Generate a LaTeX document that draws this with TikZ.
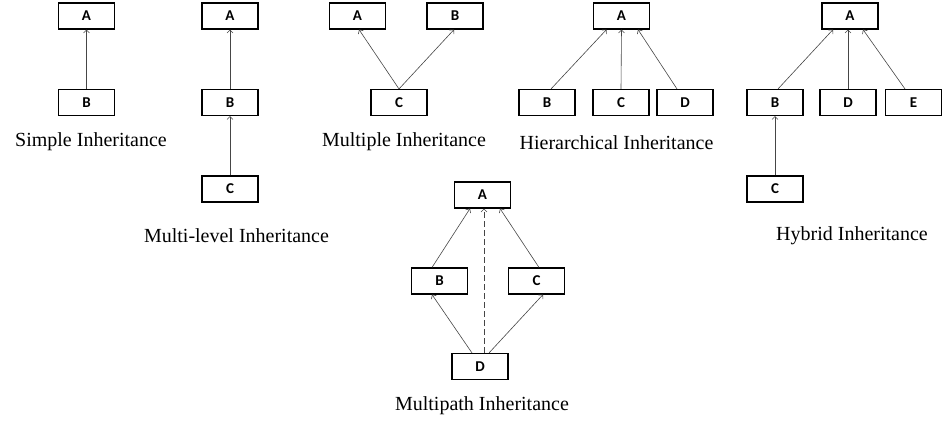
\documentclass[tikz,border=0pt]{standalone}
\usepackage{fontspec}
\setmainfont{Liberation Serif}
\newfontfamily\boxfont{Carlito}
\usetikzlibrary{shapes,arrows.meta,positioning}
\definecolor{linkgray}{RGB}{70,70,70}

\begin{document}
\begin{tikzpicture}[x=1pt,y=-1pt,
  classbox/.style={draw,line width=1.1pt,minimum width=56pt,minimum height=26pt,inner sep=0pt,font=\boxfont\bfseries\fontsize{15}{15}\selectfont},
  inherit/.style={-{Straight Barb[length=3pt,width=6pt]},draw=linkgray,line width=0.6pt},
  typelabel/.style={font=\fontsize{20}{20}\selectfont}]
\useasboundingbox (0,0) rectangle (943,423);

% Simple inheritance
\node[classbox] (sA) at (86.5,16) {A};
\node[classbox] (sB) at (86.5,102.5) {B};
\draw[inherit] (sB) -- (sA);
\node[typelabel] (sL) at (91,142) {Simple Inheritance};

% Multi-level inheritance
\node[classbox] (mlA) at (230,16) {A};
\node[classbox] (mlB) at (230,102.5) {B};
\node[classbox] (mlC) at (230,189) {C};
\draw[inherit] (mlB) -- (mlA);
\draw[inherit] (mlC) -- (mlB);
\node[typelabel] (mlL) at (236.5,236) {Multi-level Inheritance};

% Multiple inheritance
\node[classbox] (muA) at (357.5,16) {A};
\node[classbox] (muB) at (455,16) {B};
\node[classbox] (muC) at (399,102.5) {C};
\draw[inherit] (muC.north) -- ([xshift=1.5pt]muA.south);
\draw[inherit] (muC.north) -- ([xshift=-1pt]muB.south);
\node[typelabel] (muL) at (404,142) {Multiple Inheritance};

% Hierarchical inheritance
\node[classbox] (hA) at (621.5,16) {A};
\node[classbox] (hB) at (547,102.5) {B};
\node[classbox] (hC) at (621,102.5) {C};
\node[classbox] (hD) at (685,102.5) {D};
\draw[inherit] ([xshift=4pt]hB.north) -- ([xshift=-15pt]hA.south);
\draw[inherit] (hC.north) -- (hA.south);
\draw[inherit] ([xshift=-8pt]hD.north) -- ([xshift=16.5pt]hA.south);
\node[typelabel] (hL) at (616.5,143) {Hierarchical Inheritance};

% Hybrid inheritance
\node[classbox] (hyA) at (850,16) {A};
\node[classbox] (hyB) at (775,102.5) {B};
\node[classbox] (hyD) at (848,102.5) {D};
\node[classbox] (hyE) at (913.5,102.5) {E};
\node[classbox] (hyC) at (775,189) {C};
\draw[inherit] ([xshift=3pt]hyB.north) -- ([xshift=-17pt]hyA.south);
\draw[inherit] (hyD.north) -- ([xshift=-2pt]hyA.south);
\draw[inherit] ([xshift=-8.5pt]hyE.north) -- ([xshift=13pt]hyA.south);
\draw[inherit] (hyC) -- (hyB);
\node[typelabel] (hyL) at (852,236) {Hybrid Inheritance};

% Multipath inheritance
\node[classbox] (mpA) at (482.5,195) {A};
\node[classbox] (mpB) at (439.5,281) {B};
\node[classbox] (mpC) at (536.5,281) {C};
\node[classbox] (mpD) at (480,366.5) {D};
\draw[inherit] ([xshift=-7.5pt]mpB.north) -- ([xshift=-12.5pt]mpA.south);
\draw[inherit] ([xshift=2.5pt]mpC.north) -- ([xshift=17.5pt]mpA.south);
\draw[inherit,dash pattern=on 6pt off 3pt] ([xshift=4pt]mpD.north) -- ([xshift=1.5pt]mpA.south);
\draw[inherit] ([xshift=-8pt]mpD.north) -- ([xshift=-7.5pt]mpB.south);
\draw[inherit] ([xshift=9pt]mpD.north) -- ([xshift=6.5pt]mpC.south);
\node[typelabel] (mpL) at (482,406) {Multipath Inheritance};
\end{tikzpicture}
\end{document}
